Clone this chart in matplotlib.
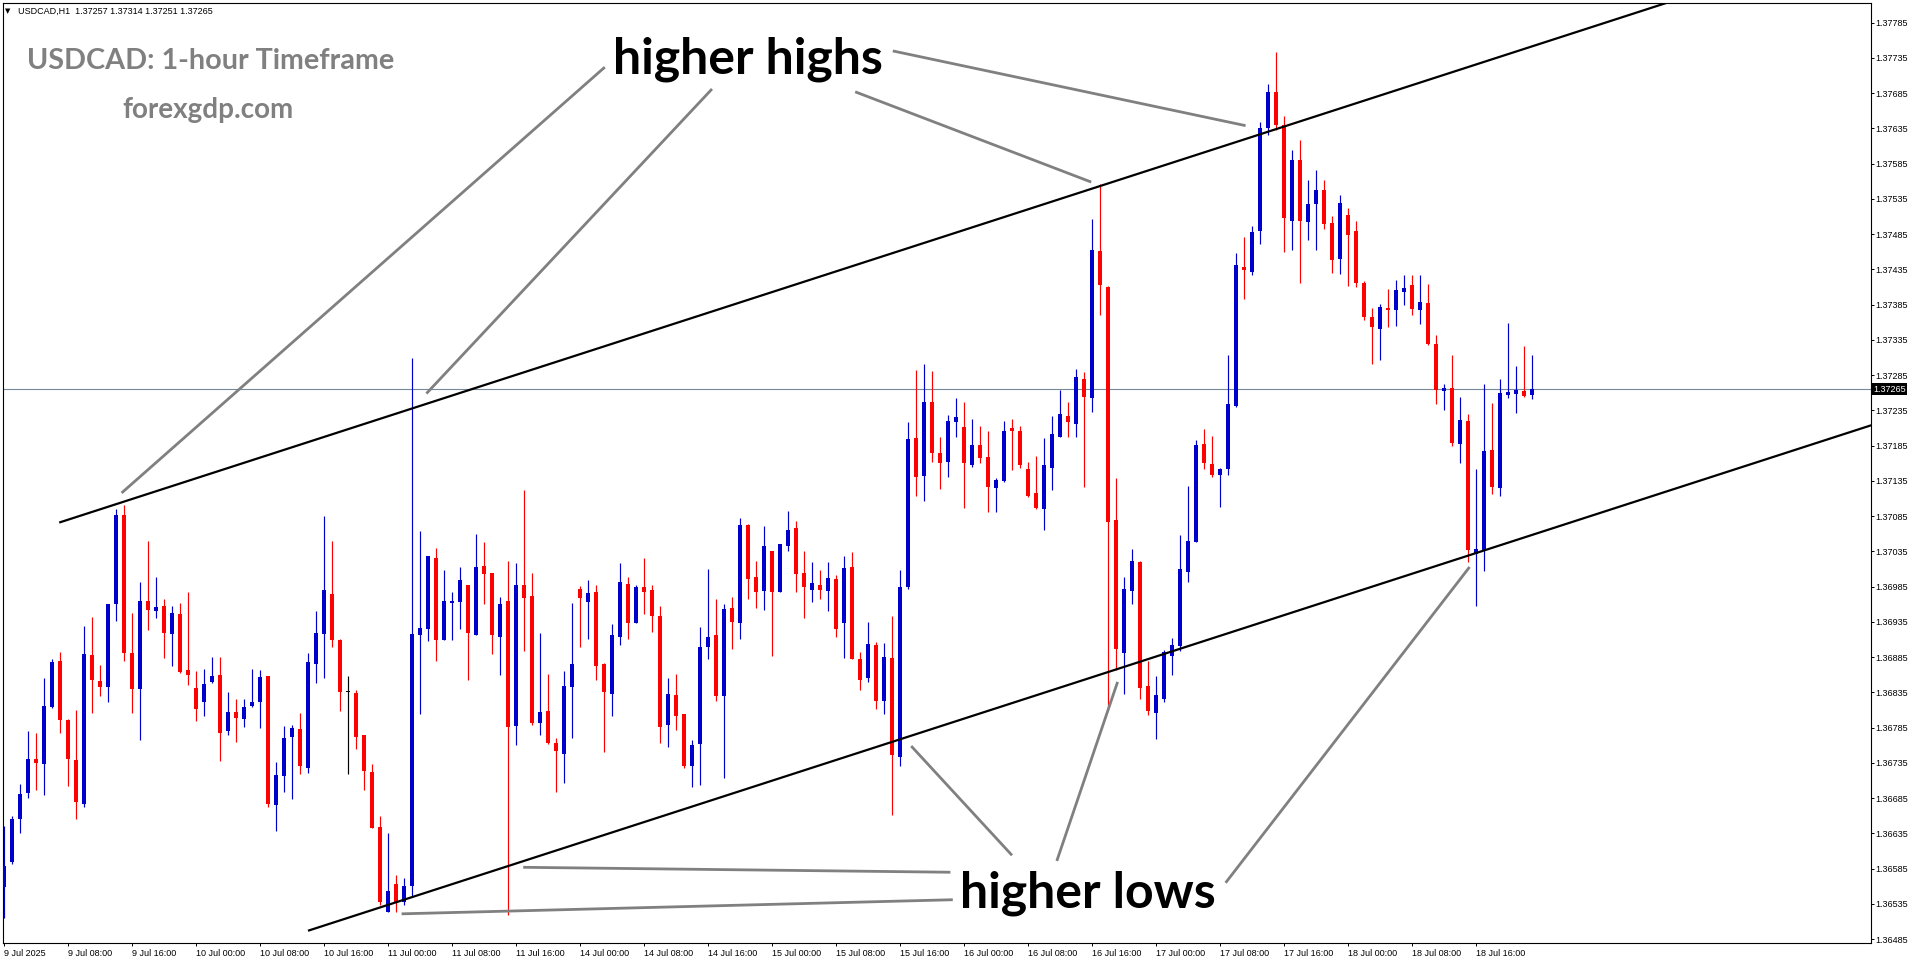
import matplotlib
matplotlib.use("Agg")
import matplotlib.pyplot as plt
import matplotlib.transforms as mtransforms
import numpy as np

# USDCAD H1 candles, 9 Jul 00:00 .. 18 Jul 23:00 (one row of 24 bars per day)
opens = [
    1.36559, 1.36594, 1.36656, 1.36692, 1.36740, 1.36734, 1.36814, 1.36880, 1.36796, 1.36739, 1.36677, 1.36888,
    1.36851, 1.36843, 1.36960, 1.37087, 1.36891, 1.36840, 1.36965, 1.36951, 1.36958, 1.36918, 1.36946, 1.36867,
    1.36841, 1.36822, 1.36850, 1.36860, 1.36781, 1.36807, 1.36798, 1.36816, 1.36821, 1.36858, 1.36676, 1.36716,
    1.36772, 1.36783, 1.36728, 1.36876, 1.36918, 1.36975, 1.36909, 1.36836, 1.36834, 1.36774, 1.36722, 1.36644,
    1.36524, 1.36563, 1.36538, 1.36561, 1.36916, 1.36925, 1.37026, 1.36910, 1.36962, 1.36964, 1.36987, 1.36917,
    1.37014, 1.37004, 1.36914, 1.36965, 1.36788, 1.36987, 1.36972, 1.36791, 1.36809, 1.36763, 1.36748, 1.36843,
    1.36982, 1.36964, 1.36978, 1.36876, 1.36833, 1.36914, 1.36989, 1.36933, 1.36985, 1.36980, 1.36943, 1.36789,
    1.36831, 1.36804, 1.36731, 1.36762, 1.36900, 1.36916, 1.36830, 1.36955, 1.36934, 1.37073, 1.36999, 1.36979,
    1.37036, 1.36978, 1.37043, 1.37068, 1.37004, 1.36981, 1.36987, 1.36979, 1.36996, 1.36934, 1.37013, 1.36883,
    1.36855, 1.36902, 1.36823, 1.36884, 1.36744, 1.36984, 1.37196, 1.37142, 1.37247, 1.37174, 1.37162, 1.37219,
    1.37211, 1.37157, 1.37186, 1.37169, 1.37125, 1.37135, 1.37210, 1.37206, 1.37152, 1.37118, 1.37095, 1.37154,
    1.37198, 1.37227, 1.37216, 1.37280, 1.37253, 1.37461, 1.37410, 1.37080, 1.36891, 1.36979, 1.37020, 1.36844,
    1.36806, 1.36826, 1.36887, 1.36901, 1.37006, 1.37049, 1.37187, 1.37159, 1.37144, 1.37152, 1.37242, 1.37439,
    1.37432, 1.37489, 1.37636, 1.37687, 1.37640, 1.37504, 1.37590, 1.37503, 1.37528, 1.37548, 1.37501, 1.37450,
    1.37512, 1.37489, 1.37416, 1.37368, 1.37351, 1.37381, 1.37378, 1.37403, 1.37413, 1.37378, 1.37387, 1.37329,
    1.37263, 1.37267, 1.37188, 1.37220, 1.37032, 1.37037, 1.37179, 1.37125, 1.37257, 1.37259, 1.37263, 1.37257,
]
highs = [
    1.36645, 1.36660, 1.36705, 1.36780, 1.36778, 1.36855, 1.36882, 1.36893, 1.36798, 1.36810, 1.36929, 1.36942,
    1.36874, 1.36961, 1.37095, 1.37101, 1.36948, 1.36992, 1.37050, 1.36999, 1.36968, 1.36958, 1.36962, 1.36978,
    1.36866, 1.36868, 1.36885, 1.36885, 1.36836, 1.36826, 1.36826, 1.36868, 1.36867, 1.36858, 1.36736, 1.36787,
    1.36789, 1.36806, 1.36891, 1.36951, 1.37085, 1.37050, 1.36911, 1.36858, 1.36838, 1.36774, 1.36734, 1.36660,
    1.36636, 1.36576, 1.36572, 1.37309, 1.37064, 1.37029, 1.37040, 1.37009, 1.36978, 1.37013, 1.36987, 1.37060,
    1.37048, 1.37004, 1.36970, 1.37021, 1.37019, 1.37122, 1.37004, 1.36919, 1.36861, 1.36770, 1.36866, 1.36962,
    1.36986, 1.36995, 1.36987, 1.36877, 1.36932, 1.37019, 1.36999, 1.36987, 1.37026, 1.36987, 1.36958, 1.36856,
    1.36861, 1.36805, 1.36767, 1.36928, 1.37010, 1.36968, 1.36960, 1.36970, 1.37082, 1.37074, 1.37021, 1.37071,
    1.37036, 1.37046, 1.37092, 1.37078, 1.37036, 1.37020, 1.37009, 1.37020, 1.37002, 1.37029, 1.37034, 1.36892,
    1.36935, 1.36907, 1.36905, 1.36943, 1.37009, 1.37218, 1.37292, 1.37301, 1.37291, 1.37197, 1.37229, 1.37253,
    1.37247, 1.37223, 1.37213, 1.37206, 1.37139, 1.37220, 1.37223, 1.37213, 1.37162, 1.37170, 1.37196, 1.37227,
    1.37264, 1.37247, 1.37294, 1.37289, 1.37507, 1.37556, 1.37412, 1.37139, 1.36999, 1.37038, 1.37021, 1.36880,
    1.36858, 1.36895, 1.36912, 1.37058, 1.37128, 1.37193, 1.37209, 1.37199, 1.37153, 1.37313, 1.37459, 1.37481,
    1.37496, 1.37644, 1.37698, 1.37743, 1.37652, 1.37604, 1.37619, 1.37562, 1.37576, 1.37562, 1.37511, 1.37541,
    1.37522, 1.37504, 1.37419, 1.37381, 1.37386, 1.37407, 1.37420, 1.37427, 1.37427, 1.37427, 1.37414, 1.37342,
    1.37273, 1.37313, 1.37254, 1.37230, 1.37152, 1.37273, 1.37246, 1.37280, 1.37359, 1.37298, 1.37327, 1.37314,
]
lows = [
    1.36515, 1.36591, 1.36636, 1.36685, 1.36697, 1.36690, 1.36813, 1.36777, 1.36703, 1.36656, 1.36672, 1.36806,
    1.36830, 1.36821, 1.36937, 1.36879, 1.36806, 1.36768, 1.36924, 1.36940, 1.36884, 1.36872, 1.36863, 1.36846,
    1.36795, 1.36801, 1.36848, 1.36738, 1.36774, 1.36765, 1.36786, 1.36815, 1.36785, 1.36673, 1.36638, 1.36694,
    1.36684, 1.36720, 1.36721, 1.36848, 1.36856, 1.36899, 1.36808, 1.36720, 1.36755, 1.36696, 1.36643, 1.36534,
    1.36524, 1.36523, 1.36534, 1.36545, 1.36804, 1.36908, 1.36880, 1.36909, 1.36910, 1.36925, 1.36852, 1.36917,
    1.36961, 1.36889, 1.36860, 1.36519, 1.36761, 1.36894, 1.36789, 1.36775, 1.36762, 1.36694, 1.36707, 1.36770,
    1.36899, 1.36911, 1.36853, 1.36751, 1.36802, 1.36903, 1.36911, 1.36933, 1.36947, 1.36921, 1.36764, 1.36757,
    1.36782, 1.36728, 1.36701, 1.36704, 1.36882, 1.36823, 1.36714, 1.36897, 1.36911, 1.36967, 1.36955, 1.36952,
    1.36887, 1.36978, 1.37036, 1.36977, 1.36940, 1.36964, 1.36968, 1.36950, 1.36914, 1.36884, 1.36882, 1.36838,
    1.36850, 1.36812, 1.36804, 1.36661, 1.36730, 1.36982, 1.37113, 1.37106, 1.37162, 1.37124, 1.37141, 1.37198,
    1.37096, 1.37155, 1.37161, 1.37091, 1.37091, 1.37134, 1.37150, 1.37154, 1.37112, 1.37095, 1.37065, 1.37122,
    1.37197, 1.37198, 1.37198, 1.37127, 1.37233, 1.37370, 1.36812, 1.36867, 1.36833, 1.36960, 1.36826, 1.36803,
    1.36769, 1.36822, 1.36860, 1.36894, 1.36991, 1.37048, 1.37152, 1.37140, 1.37098, 1.37143, 1.37240, 1.37393,
    1.37427, 1.37471, 1.37626, 1.37633, 1.37460, 1.37462, 1.37416, 1.37477, 1.37462, 1.37492, 1.37430, 1.37429,
    1.37412, 1.37410, 1.37364, 1.37301, 1.37306, 1.37354, 1.37355, 1.37385, 1.37371, 1.37358, 1.37328, 1.37244,
    1.37236, 1.37185, 1.37161, 1.37020, 1.36958, 1.37008, 1.37117, 1.37113, 1.37253, 1.37232, 1.37254, 1.37251,
]
closes = [
    1.36589, 1.36656, 1.36691, 1.36740, 1.36735, 1.36816, 1.36878, 1.36796, 1.36741, 1.36679, 1.36890, 1.36852,
    1.36843, 1.36960, 1.37087, 1.36891, 1.36840, 1.36965, 1.36952, 1.36956, 1.36920, 1.36948, 1.36864, 1.36860,
    1.36812, 1.36847, 1.36858, 1.36777, 1.36807, 1.36799, 1.36814, 1.36821, 1.36857, 1.36677, 1.36718, 1.36770,
    1.36784, 1.36730, 1.36878, 1.36919, 1.36980, 1.36910, 1.36836, 1.36836, 1.36772, 1.36723, 1.36643, 1.36538,
    1.36553, 1.36538, 1.36560, 1.36918, 1.36926, 1.37028, 1.36910, 1.36965, 1.36965, 1.36995, 1.36920, 1.37013,
    1.37003, 1.36916, 1.36960, 1.36786, 1.36987, 1.36969, 1.36792, 1.36807, 1.36764, 1.36752, 1.36844, 1.36875,
    1.36969, 1.36976, 1.36872, 1.36836, 1.36916, 1.36992, 1.36934, 1.36985, 1.36978, 1.36943, 1.36786, 1.36833,
    1.36801, 1.36731, 1.36760, 1.36900, 1.36914, 1.36830, 1.36953, 1.36935, 1.37073, 1.36996, 1.36978, 1.37043,
    1.36977, 1.37046, 1.37065, 1.37003, 1.36984, 1.36990, 1.36981, 1.36997, 1.36925, 1.37012, 1.36882, 1.36853,
    1.36904, 1.36823, 1.36885, 1.36747, 1.36985, 1.37195, 1.37141, 1.37247, 1.37174, 1.37161, 1.37220, 1.37226,
    1.37161, 1.37186, 1.37168, 1.37127, 1.37137, 1.37206, 1.37206, 1.37158, 1.37113, 1.37096, 1.37158, 1.37202,
    1.37230, 1.37218, 1.37282, 1.37254, 1.37463, 1.37413, 1.37077, 1.36897, 1.36982, 1.37021, 1.36842, 1.36809,
    1.36831, 1.36892, 1.36902, 1.37010, 1.37050, 1.37186, 1.37160, 1.37143, 1.37152, 1.37244, 1.37441, 1.37434,
    1.37488, 1.37636, 1.37687, 1.37640, 1.37508, 1.37590, 1.37504, 1.37528, 1.37548, 1.37500, 1.37449, 1.37529,
    1.37484, 1.37416, 1.37368, 1.37354, 1.37382, 1.37377, 1.37406, 1.37409, 1.37379, 1.37389, 1.37329, 1.37264,
    1.37267, 1.37189, 1.37221, 1.37037, 1.37039, 1.37177, 1.37127, 1.37260, 1.37261, 1.37264, 1.37256, 1.37265,
]

time_labels = ["9 Jul 2025", "9 Jul 08:00", "9 Jul 16:00", "10 Jul 00:00", "10 Jul 08:00",
               "10 Jul 16:00", "11 Jul 00:00", "11 Jul 08:00", "11 Jul 16:00", "14 Jul 00:00",
               "14 Jul 08:00", "14 Jul 16:00", "15 Jul 00:00", "15 Jul 08:00", "15 Jul 16:00",
               "16 Jul 00:00", "16 Jul 08:00", "16 Jul 16:00", "17 Jul 00:00", "17 Jul 08:00",
               "17 Jul 16:00", "18 Jul 00:00", "18 Jul 08:00", "18 Jul 16:00"]
label_step = 8
price_ticks = [round(1.36485 + 0.0005 * k, 5) for k in range(27)]
last_price = 1.37265
header = "USDCAD,H1  1.37257 1.37314 1.37251 1.37265"

# trend channel anchors (bar index, price)
upper_channel = [(6.9, 1.37076), (233.4, 1.37907)]
lower_channel = [(38.0, 1.36497), (233.4, 1.37214)]
# grey pointer lines: (from, to) in (bar index, price)
highs_pointers = [((75.1, 1.37722), (14.7, 1.37118)),
                  ((88.5, 1.37691), (52.8, 1.37259)),
                  ((106.4, 1.37687), (135.9, 1.37559)),
                  ((111.1, 1.37745), (155.2, 1.37639))]
lows_pointers = [((118.3, 1.36580), (64.9, 1.36587)),
                 ((118.6, 1.36541), (49.7, 1.36521)),
                 ((126.0, 1.36604), (113.4, 1.36759)),
                 ((131.6, 1.36596), (139.2, 1.36850)),
                 ((152.7, 1.36565), (183.2, 1.37013))]

W, H = 1916, 964
BLUE = "#0000CD"
RED = "#FF0000"
GREY = "#808080"
AXFONT = "Liberation Sans"

fig = plt.figure(figsize=(W / 100, H / 100), dpi=100)
fig.patch.set_facecolor("white")

# plot area in pixels: x 3..1870.7, y 2.7..943.3
left, right, top, bottom = 3.0, 1870.7, 2.7, 943.3
ax = fig.add_axes([left / W, (H - bottom) / H, (right - left) / W, (bottom - top) / H])
bar_px = 8.0
xmin = -1.0 / bar_px
ax.set_xlim(xmin, xmin + (right - left) / bar_px)
ax.set_ylim(1.364792, 1.378134)

o = np.array(opens)
h = np.array(highs)
l = np.array(lows)
c = np.array(closes)
idx = np.arange(len(o))
colors = np.where(c > o, BLUE, np.where(c < o, RED, "#000000"))

ax.axhline(last_price, color="#778899", lw=0.8, zorder=1)
ax.vlines(idx, l, h, colors=colors, lw=0.85, zorder=2)
body_lo = np.minimum(o, c)
body_h = np.maximum(np.abs(c - o), 1.0e-5)
ax.bar(idx, body_h, bottom=body_lo, width=0.62, color=colors, linewidth=0, zorder=3)

# channel
for line in (upper_channel, lower_channel):
    xs, ys = zip(*line)
    ax.plot(xs, ys, color="black", lw=1.6, zorder=4, solid_capstyle="butt")

for (x0, y0), (x1, y1) in highs_pointers + lows_pointers:
    ax.plot([x0, x1], [y0, y1], color=GREY, lw=2.0, zorder=4, solid_capstyle="butt")

# axes styling
for sp in ax.spines.values():
    sp.set_linewidth(0.8)
    sp.set_color("black")
ax.yaxis.tick_right()
ax.set_yticks(price_ticks)
ax.set_yticklabels(["%.5f" % p for p in price_ticks])
ax.tick_params(axis="y", length=2.4, width=0.7, pad=1.0, labelsize=6.5, direction="out")
ax.set_xticks(np.arange(len(time_labels)) * label_step)
ax.set_xticklabels(time_labels, ha="left")
ax.tick_params(axis="x", length=2.4, width=0.7, pad=1.5, labelsize=6.5, direction="out")
for lab in ax.get_xticklabels() + ax.get_yticklabels():
    lab.set_fontfamily(AXFONT)

# current price marker
trans = mtransforms.blended_transform_factory(ax.transAxes, ax.transData)
ax.text(1.0015, last_price, "1.37265", transform=trans, ha="left", va="center",
        fontsize=6.5, family=AXFONT, color="white",
        bbox=dict(boxstyle="square,pad=0.15", fc="black", ec="none"), clip_on=False)


def px(x, y):
    return x / W, 1 - y / H


# header line
fig.text(*px(5, 11), "\u25BC", fontsize=5, family="DejaVu Sans", va="center", ha="left")
fig.text(*px(18, 11), header, fontsize=6.5, family=AXFONT, va="center", ha="left")

# watermark titles
fig.text(*px(27, 68.7), "USDCAD: 1-hour Timeframe", fontsize=20.7, family="Lato",
         weight="bold", color=GREY, va="baseline", ha="left")
fig.text(*px(122, 118.3), "forexgdp.com", fontsize=20, family="Lato",
         weight="bold", color=GREY, va="baseline", ha="left")

# annotation words
fig.text(*px(748, 74), "higher highs", fontsize=36, family="Lato", weight="bold",
         color="black", va="baseline", ha="center")
fig.text(*px(1088, 907), "higher lows", fontsize=36, family="Lato", weight="bold",
         color="black", va="baseline", ha="center")

fig.savefig("out.png", dpi=100)
